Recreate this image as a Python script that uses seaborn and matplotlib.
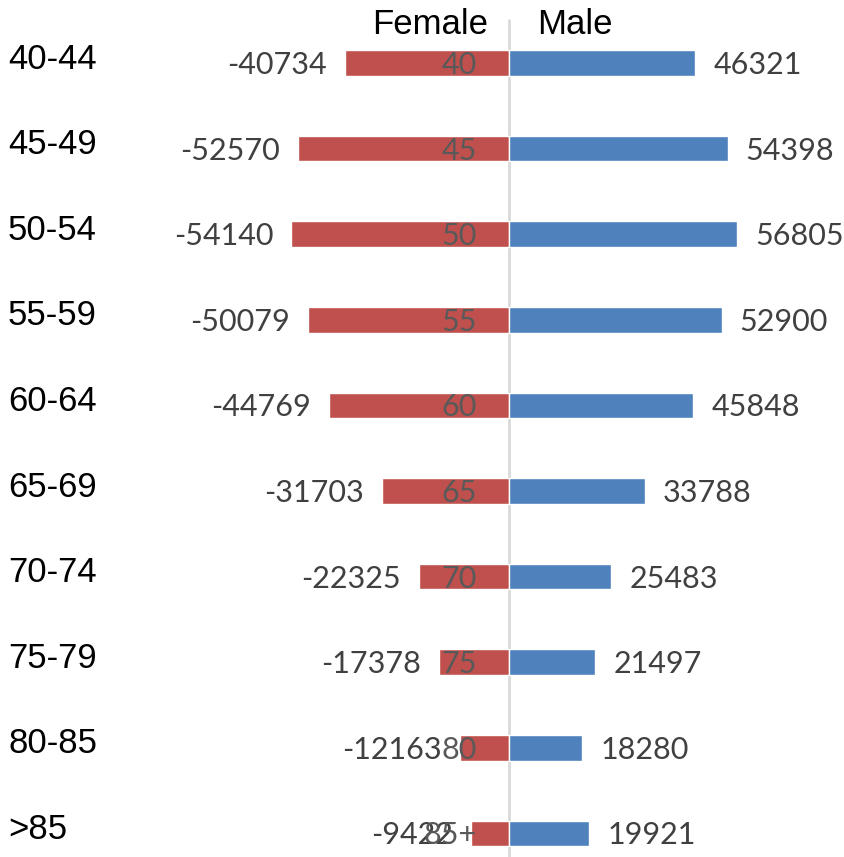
import matplotlib
matplotlib.use("Agg")
from matplotlib import pyplot as plt
import matplotlib.transforms as mtransforms
import pandas as pd
import seaborn as sns

# data
ages = ["40-44", "45-49", "50-54", "55-59", "60-64", "65-69", "70-74", "75-79", "80-85", ">85"]
inner_labels = ["40", "45", "50", "55", "60", "65", "70", "75", "80", "85+"]
female = [-40734, -52570, -54140, -50079, -44769, -31703, -22325, -17378, -12163, -9422]
male = [46321, 54398, 56805, 52900, 45848, 33788, 25483, 21497, 18280, 19921]

df = pd.DataFrame({
    "age": ages * 2,
    "sex": ["Female"] * len(ages) + ["Male"] * len(ages),
    "value": female + male,
})

sns.set_style("white")

fig = plt.figure(figsize=(8.45, 8.57), dpi=100)
ax = fig.add_axes([0, 0, 1, 1])

sns.barplot(data=df, y="age", x="value", hue="sex", orient="h", dodge=False,
            palette={"Female": "#C0504D", "Male": "#4F81BD"}, width=0.3,
            saturation=1, legend=False, order=ages, ax=ax)

# scale: zero line at x=509 px, ~0.00402 px per person
px = 0.00402
ax.set_xlim(-509 / px, (845 - 509) / px)
ax.set_ylim((857 - 63) / 85.6, -63 / 85.6)
ax.set_axis_off()

ax.axvline(0, ymin=0, ymax=1 - 20 / 857, color="#D9D9D9", lw=2, zorder=0)

num_font = dict(family="Lato", fontsize=22, color="#404040")
for i, (f, m) in enumerate(zip(female, male)):
    ax.annotate(str(f), xy=(f, i), xytext=(-13, -1.5), textcoords="offset points",
                ha="right", va="center", **num_font)
    ax.annotate(str(m), xy=(m, i), xytext=(13, -1.5), textcoords="offset points",
                ha="left", va="center", **num_font)
    ax.annotate(inner_labels[i], xy=(0, i), xytext=(-23, -1.5), textcoords="offset points",
                ha="right", va="center", family="Lato", fontsize=22, color="#595959")

trans = mtransforms.blended_transform_factory(fig.transFigure, ax.transData)
for i, a in enumerate(ages):
    ax.text(8 / 845, i - 0.045, a, transform=trans, ha="left", va="center",
            family="Liberation Sans", fontsize=25, color="black")

fig.text(430 / 845, 1 - 25 / 857, "Female", ha="center", va="center",
         family="Liberation Sans", fontsize=25, color="black")
fig.text(575 / 845, 1 - 25 / 857, "Male", ha="center", va="center",
         family="Liberation Sans", fontsize=25, color="black")

fig.savefig("out.png", dpi=100)
